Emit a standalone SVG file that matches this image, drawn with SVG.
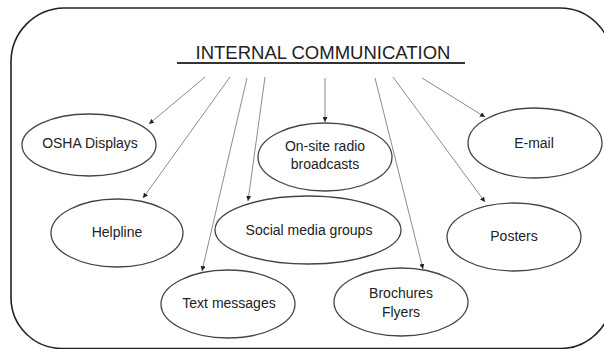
<svg xmlns="http://www.w3.org/2000/svg" width="604" height="349" viewBox="0 0 604 349">
<style>
.frame{fill:#fff;stroke:#222;stroke-width:1.6}
.node ellipse{fill:#fff;stroke:#444;stroke-width:1.3}
.node text, .title text{font-family:"Liberation Sans",Arial,sans-serif;fill:#222;text-anchor:middle}
.node text{font-size:14px}
.title text{font-size:18px}
.conn line{stroke:#8c8c8c;stroke-width:1;marker-end:url(#ah)}
</style>
<defs>
<marker id="ah" markerUnits="userSpaceOnUse" markerWidth="6" markerHeight="5" refX="5" refY="2.5" orient="auto">
<path d="M0,0 L5,2.5 L0,5 Z" fill="#222"/>
</marker>
</defs>
<rect width="604" height="349" fill="#fff"/>
<path class="frame" d="M64,8 H560 A52,52 0 0 1 612,60 V298 A52,52 0 0 1 560,348.5 H62 A51,51 0 0 1 11,298 V62 A54,54 0 0 1 64,8 Z"/>
<g id="title" class="title">
<text x="323" y="59" textLength="255" lengthAdjust="spacingAndGlyphs">INTERNAL COMMUNICATION</text>
<line x1="177" y1="63" x2="465" y2="63" stroke="#333" stroke-width="1.8"/>
</g>
<g id="connectors" class="conn">
<line x1="205" y1="77" x2="149" y2="124"/>
<line x1="230" y1="77" x2="143" y2="198"/>
<line x1="247" y1="78" x2="202" y2="271"/>
<line x1="265" y1="77" x2="248" y2="201"/>
<line x1="325" y1="78" x2="325" y2="122"/>
<line x1="375" y1="78" x2="423" y2="269"/>
<line x1="393" y1="77" x2="485" y2="202"/>
<line x1="422" y1="78" x2="485" y2="117"/>
</g>
<g id="osha" class="node">
<ellipse cx="89" cy="145" rx="67" ry="31"/>
<text x="90" y="148">OSHA Displays</text>
</g>
<g id="radio" class="node">
<ellipse cx="325" cy="157" rx="67" ry="34"/>
<text x="325" y="151">On-site radio</text>
<text x="325" y="169">broadcasts</text>
</g>
<g id="email" class="node">
<ellipse cx="535" cy="143" rx="67" ry="35"/>
<text x="534" y="148">E-mail</text>
</g>
<g id="helpline" class="node">
<ellipse cx="117" cy="233" rx="66" ry="34"/>
<text x="117" y="237">Helpline</text>
</g>
<g id="social" class="node">
<ellipse cx="308" cy="230" rx="93" ry="34"/>
<text x="309" y="235">Social media groups</text>
</g>
<g id="posters" class="node">
<ellipse cx="514" cy="237" rx="67" ry="34"/>
<text x="514" y="241">Posters</text>
</g>
<g id="text-messages" class="node">
<ellipse cx="228" cy="304" rx="67" ry="34"/>
<text x="229" y="308">Text messages</text>
</g>
<g id="brochures" class="node">
<ellipse cx="401" cy="302" rx="67" ry="34"/>
<text x="401" y="298">Brochures</text>
<text x="401" y="317">Flyers</text>
</g>
</svg>
